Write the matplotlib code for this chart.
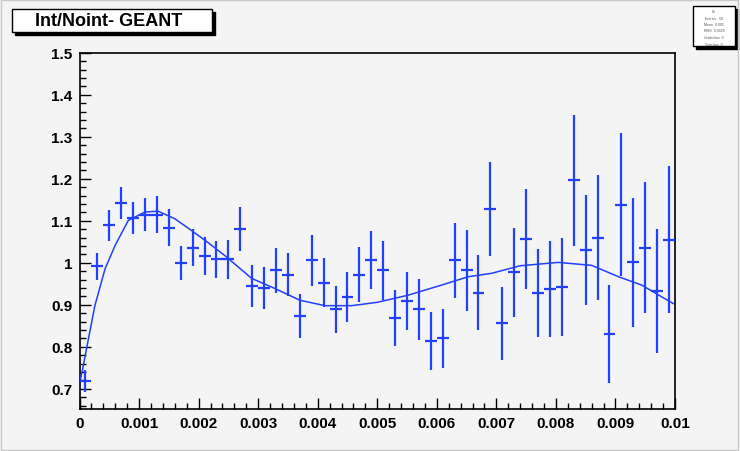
import numpy as np
import matplotlib.pyplot as plt
from matplotlib.patches import Rectangle
from matplotlib.ticker import MultipleLocator

# histogram binning (50 bins from 0 to 0.01)
n_bins = 50
x_lo, x_hi = 0.0, 0.01

ratio = [0.719, 0.992, 1.089, 1.143, 1.107, 1.115, 1.115, 1.084, 1.000, 1.036,
         1.016, 1.008, 1.008, 1.080, 0.944, 0.941, 0.982, 0.972, 0.874, 1.006,
         0.953, 0.889, 0.918, 0.972, 1.006, 0.982, 0.869, 0.909, 0.889, 0.815,
         0.820, 1.006, 0.982, 0.929, 1.128, 0.856, 0.977, 1.056, 0.929, 0.937,
         0.942, 1.197, 1.031, 1.060, 0.830, 1.138, 1.001, 1.036, 0.933, 1.055]
ratio_err = [0.027, 0.032, 0.037, 0.038, 0.038, 0.040, 0.043, 0.045, 0.040, 0.044,
             0.045, 0.045, 0.047, 0.053, 0.050, 0.050, 0.053, 0.052, 0.052, 0.060,
             0.058, 0.057, 0.059, 0.065, 0.069, 0.070, 0.067, 0.070, 0.072, 0.069,
             0.070, 0.089, 0.097, 0.089, 0.112, 0.087, 0.107, 0.119, 0.105, 0.114,
             0.117, 0.156, 0.131, 0.148, 0.117, 0.170, 0.153, 0.156, 0.148, 0.175]

# fitted curve
fit_x = [0.00002, 0.00005, 0.00012, 0.00026, 0.00043, 0.0006, 0.00082, 0.0011,
         0.00132, 0.0016, 0.00188, 0.00216, 0.00246, 0.00289, 0.00328, 0.0037,
         0.00412, 0.00457, 0.005, 0.00552, 0.00608, 0.00653, 0.00692, 0.0074,
         0.00804, 0.0086, 0.00905, 0.00944, 0.00997]
fit_y = [0.725, 0.745, 0.797, 0.899, 0.986, 1.042, 1.101, 1.121, 1.123, 1.105,
         1.077, 1.048, 1.015, 0.963, 0.939, 0.911, 0.898, 0.898, 0.906, 0.923,
         0.947, 0.967, 0.975, 0.993, 1.001, 0.994, 0.967, 0.947, 0.903]

title = 'Int/Noint- GEANT'
stats_lines = ['h1', 'Entries   50', 'Mean  0.005', 'RMS  0.0029', 'Underflow  0', 'Overflow  0']

bg = '#f4f4f4'
blue = '#2140ff'
plt.rcParams['font.family'] = ['Liberation Sans', 'DejaVu Sans']

fig = plt.figure(figsize=(7.4, 4.52), dpi=100, facecolor=bg)
ax = fig.add_axes([79.5 / 740, 1 - 410 / 452, (675 - 79.5) / 740, (410 - 53.8) / 452])
ax.set_facecolor(bg)

edges = np.linspace(x_lo, x_hi, n_bins + 1)
centers = 0.5 * (edges[:-1] + edges[1:])
half_w = 0.5 * (edges[1] - edges[0])

ax.errorbar(centers, ratio, yerr=ratio_err, xerr=half_w, fmt='none',
            ecolor=blue, elinewidth=1.6, capsize=0, zorder=3)
ax.plot(fit_x, fit_y, color=blue, lw=1.1, zorder=4)

ax.set_xlim(x_lo, x_hi)
ax.set_ylim(0.652, 1.5)
ax.xaxis.set_minor_locator(MultipleLocator(0.0002))
ax.yaxis.set_minor_locator(MultipleLocator(0.02))
ax.set_xticks(np.arange(0, 0.0105, 0.001))
ax.set_xticklabels(['0', '0.001', '0.002', '0.003', '0.004', '0.005',
                    '0.006', '0.007', '0.008', '0.009', '0.01'])
ax.set_yticks(np.arange(0.7, 1.55, 0.1))
ax.set_yticklabels(['0.7', '0.8', '0.9', '1', '1.1', '1.2', '1.3', '1.4', '1.5'])
ax.tick_params(which='both', direction='in', top=False, right=False, color='black',
               labelsize=11, pad=5)
ax.tick_params(which='major', length=8, width=1)
ax.tick_params(which='minor', length=4, width=1)
for lab in ax.get_xticklabels() + ax.get_yticklabels():
    lab.set_fontweight('bold')
for s in ax.spines.values():
    s.set_linewidth(1.2)

# title box with shadow
fig.patches.append(Rectangle((15 / 740, 1 - 36 / 452), 200 / 740, 23 / 452,
                             transform=fig.transFigure, facecolor='black', edgecolor='black'))
fig.patches.append(Rectangle((12 / 740, 1 - 33 / 452), 200 / 740, 23 / 452,
                             transform=fig.transFigure, facecolor='white', edgecolor='black', lw=1))
fig.text(109 / 740, 1 - 22 / 452, title, ha='center', va='center',
         fontsize=13, fontweight='bold')

# stats box with shadow
fig.patches.append(Rectangle((696 / 740, 1 - 50 / 452), 42 / 740, 40 / 452,
                             transform=fig.transFigure, facecolor='black', edgecolor='black'))
fig.patches.append(Rectangle((693 / 740, 1 - 47 / 452), 42 / 740, 40 / 452,
                             transform=fig.transFigure, facecolor='white', edgecolor='black', lw=1))
for i, line in enumerate(stats_lines):
    fig.text(714 / 740, 1 - (12 + i * 6.5) / 452, line, ha='center', va='center',
             fontsize=2.5, color='#555555')

# outer canvas border
fig.patches.append(Rectangle((0.002, 0.003), 0.995, 0.994, transform=fig.transFigure,
                             facecolor='none', edgecolor='#c8c8c8', lw=1))

fig.savefig('out.png', dpi=100, facecolor=bg)
